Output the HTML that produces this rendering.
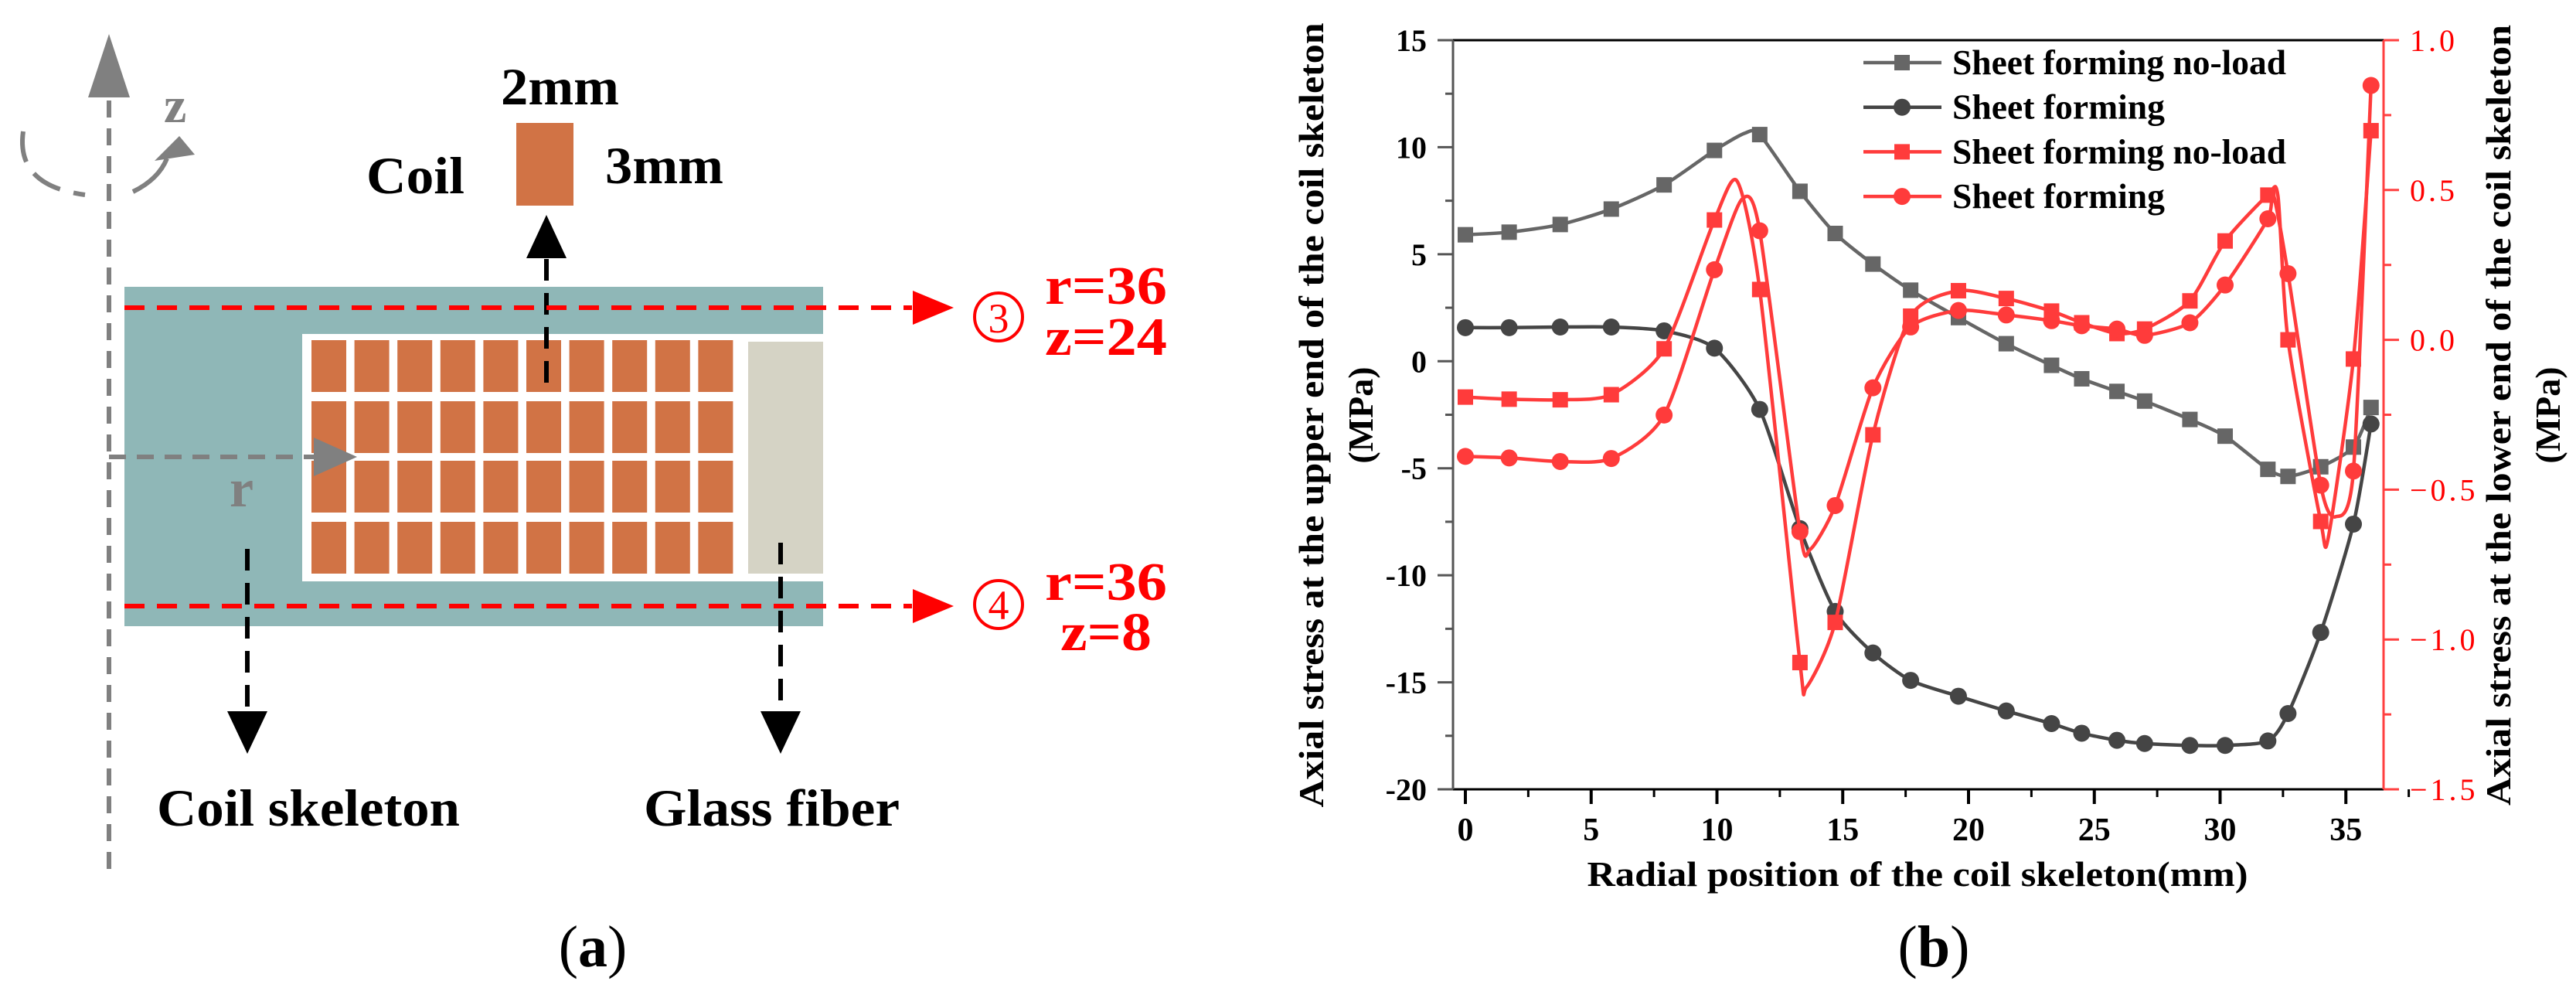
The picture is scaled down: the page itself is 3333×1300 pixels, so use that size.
<!DOCTYPE html>
<html><head><meta charset="utf-8"><style>
html,body{margin:0;padding:0;background:#fff;}
svg, svg text{font-family:"Liberation Serif","Times New Roman",serif;}
</style></head><body>
<svg id="fig" width="3333" height="1295" viewBox="0 0 3333 1295" xmlns="http://www.w3.org/2000/svg" font-family="Liberation Serif, serif">
<!-- Panel (a) -->
<g id="panel-a">
  <rect x="161" y="371" width="904" height="439" fill="#8fb7b7"/>
  <rect x="391" y="432" width="674" height="320" fill="#ffffff"/>
  <rect x="968" y="442" width="97" height="300" fill="#d5d3c5"/>
  <g id="coil-grid"></g>
  <line x1="141" y1="130" x2="141" y2="1125" stroke="#808080" stroke-width="6" stroke-dasharray="22,14"/>
  <polygon points="141,44 114,126 168,126" fill="#808080"/>
  <text x="212" y="158" font-size="66" font-weight="bold" fill="#808080">z</text>
  <path d="M 30 170 Q 20 240 110 252" fill="none" stroke="#808080" stroke-width="6" stroke-dasharray="40,18"/>
  <path d="M 172 248 Q 205 232 216 205" fill="none" stroke="#808080" stroke-width="6"/>
  <polygon points="232,176 200,208 252,200" fill="#808080"/>
  <line x1="141" y1="591" x2="410" y2="591" stroke="#808080" stroke-width="6" stroke-dasharray="22,14"/>
  <polygon points="462,591 406,566 406,616" fill="#808080"/>
  <text x="297" y="655" font-size="70" font-weight="bold" fill="#808080">r</text>
  <rect x="668" y="159" width="74" height="107" fill="#d17345"/>
  <text x="474" y="250" font-size="68" font-weight="bold" fill="#000" textLength="127" lengthAdjust="spacingAndGlyphs">Coil</text>
  <text x="648" y="135" font-size="68" font-weight="bold" fill="#000" textLength="153" lengthAdjust="spacingAndGlyphs">2mm</text>
  <text x="783" y="237" font-size="68" font-weight="bold" fill="#000" textLength="153" lengthAdjust="spacingAndGlyphs">3mm</text>
  <line x1="707" y1="495" x2="707" y2="330" stroke="#000" stroke-width="6" stroke-dasharray="28,16"/>
  <polygon points="707,278 681,334 733,334" fill="#000"/>
  <line x1="161" y1="398" x2="1180" y2="398" stroke="#ff0000" stroke-width="6" stroke-dasharray="26,16"/>
  <polygon points="1234,398 1181,376 1181,420" fill="#ff0000"/>
  <line x1="161" y1="784" x2="1180" y2="784" stroke="#ff0000" stroke-width="6" stroke-dasharray="26,16"/>
  <polygon points="1234,784 1181,762 1181,806" fill="#ff0000"/>
  <circle cx="1292" cy="410" r="31" fill="none" stroke="#ff0000" stroke-width="4"/>
  <text x="1292" y="430" font-size="54" fill="#ff0000" text-anchor="middle">3</text>
  <circle cx="1292" cy="782" r="31" fill="none" stroke="#ff0000" stroke-width="4"/>
  <text x="1292" y="801" font-size="54" fill="#ff0000" text-anchor="middle">4</text>
  <text x="1352" y="393" font-size="70" font-weight="bold" fill="#ff0000" textLength="158" lengthAdjust="spacingAndGlyphs">r=36</text>
  <text x="1352" y="459" font-size="70" font-weight="bold" fill="#ff0000" textLength="158" lengthAdjust="spacingAndGlyphs">z=24</text>
  <text x="1352" y="776" font-size="70" font-weight="bold" fill="#ff0000" textLength="158" lengthAdjust="spacingAndGlyphs">r=36</text>
  <text x="1372" y="841" font-size="70" font-weight="bold" fill="#ff0000" textLength="118" lengthAdjust="spacingAndGlyphs">z=8</text>
  <line x1="320" y1="710" x2="320" y2="925" stroke="#000" stroke-width="6" stroke-dasharray="28,16"/>
  <polygon points="320,975 294,920 346,920" fill="#000"/>
  <line x1="1010" y1="702" x2="1010" y2="925" stroke="#000" stroke-width="6" stroke-dasharray="28,16"/>
  <polygon points="1010,975 984,920 1036,920" fill="#000"/>
  <text x="203" y="1068" font-size="68" font-weight="bold" fill="#000" textLength="392" lengthAdjust="spacingAndGlyphs">Coil skeleton</text>
  <text x="833" y="1068" font-size="68" font-weight="bold" fill="#000" textLength="331" lengthAdjust="spacingAndGlyphs">Glass fiber</text>
  <text x="767" y="1250" font-size="76" fill="#000" text-anchor="middle">(<tspan font-weight="bold">a</tspan>)</text>
</g>
<!-- Panel (b) -->
<g id="panel-b">
  <g id="series"></g>
  <line x1="1880" y1="52" x2="3084" y2="52" stroke="#000" stroke-width="3"/>
  <line x1="1878" y1="1021" x2="3084" y2="1021" stroke="#000" stroke-width="3"/>
  <line x1="1880" y1="52" x2="1880" y2="1021" stroke="#555" stroke-width="3"/>
  <line x1="3084" y1="52" x2="3084" y2="1021" stroke="#ff4040" stroke-width="3"/>
  <g id="ticks"></g>
  <text transform="translate(1712,537) rotate(-90)" font-size="46" font-weight="bold" text-anchor="middle" textLength="1015" lengthAdjust="spacingAndGlyphs">Axial stress at the upper end of the coil skeleton</text>
  <text transform="translate(1776,537) rotate(-90)" font-size="46" font-weight="bold" text-anchor="middle">(MPa)</text>
  <text transform="translate(3248,537) rotate(-90)" font-size="46" font-weight="bold" text-anchor="middle" textLength="1010" lengthAdjust="spacingAndGlyphs">Axial stress at the lower end of the coil skeleton</text>
  <text transform="translate(3312,537) rotate(-90)" font-size="46" font-weight="bold" text-anchor="middle">(MPa)</text>
  <text x="2481" y="1146" font-size="46" font-weight="bold" text-anchor="middle" textLength="855" lengthAdjust="spacingAndGlyphs">Radial position of the coil skeleton(mm)</text>
  <g id="legend"></g>
  <text x="2502" y="1250" font-size="76" fill="#000" text-anchor="middle">(<tspan font-weight="bold">b</tspan>)</text>
</g>
</svg>
<script>
// ---- chart data ----
const xMarks = [0,1.74,3.77,5.8,7.9,9.9,11.7,13.3,14.7,16.2,17.7,19.6,21.5,23.3,24.5,25.9,27,28.8,30.2,31.9,32.7,34,35.3,36];
const upperNoLoad = [5.91,6.03,6.39,7.11,8.24,9.85,10.59,7.94,5.97,4.54,3.32,2.04,0.82,-0.19,-0.82,-1.41,-1.86,-2.72,-3.5,-5.05,-5.38,-4.93,-4.01,-2.16];
const upperLoad = [1.57,1.57,1.6,1.6,1.42,0.61,-2.25,-7.82,-11.69,-13.63,-14.91,-15.65,-16.34,-16.93,-17.38,-17.71,-17.86,-17.95,-17.95,-17.74,-16.46,-12.67,-7.61,-2.93];
const lowerNoLoad = [-0.191,-0.198,-0.2,-0.183,-0.03,0.4,0.168,-1.077,-0.943,-0.317,0.079,0.164,0.138,0.096,0.057,0.021,0.036,0.13,0.33,0.483,0,-0.606,-0.064,0.698];
const lowerLoad = [-0.389,-0.394,-0.406,-0.396,-0.251,0.234,0.364,-0.64,-0.553,-0.16,0.043,0.098,0.083,0.064,0.047,0.036,0.015,0.057,0.183,0.404,0.221,-0.485,-0.438,0.849];
const upperNoLoadExtraX = [11.1];
const upperNoLoadExtraY = [10.65];
const lowerNoLoadExtraX = [10.8,13.55,32.3,34.3];
const lowerNoLoadExtraY = [0.53,-1.16,0.48,-0.66];
const lowerLoadExtraX = [11.0,13.7,32.1,34.6];
const lowerLoadExtraY = [0.47,-0.70,0.49,-0.59];
const xTicks = [0,5,10,15,20,25,30,35];
const leftTicks = [15,10,5,0,-5,-10,-15,-20];
const rightTicks = [1.0,0.5,0.0,-0.5,-1.0,-1.5];
const rightTickLabels = ["1.0","0.5","0.0","\u22120.5","\u22121.0","\u22121.5"];
const legendLabels = ["Sheet forming no-load","Sheet forming","Sheet forming no-load","Sheet forming"];

const X0=1896, XS=32.55, YT=52, YB=1021;
const L_MIN=-20, L_MAX=15, R_MIN=-1.5, R_MAX=1.0;
function xs(v){return X0+v*XS;}
function yl(v){return YT+(L_MAX-v)/(L_MAX-L_MIN)*(YB-YT);}
function yr(v){return YT+(R_MAX-v)/(R_MAX-R_MIN)*(YB-YT);}
const NS="http://www.w3.org/2000/svg";
function mk(tag,attrs,parent){const e=document.createElementNS(NS,tag);for(const k in attrs)e.setAttribute(k,attrs[k]);parent.appendChild(e);return e;}

const grid=document.getElementById('coil-grid');
const rowsY=[440,519,596,675];
for(let r=0;r<4;r++){for(let c=0;c<10;c++){
  const cell=mk('rect',{x:403+c*55.6,y:rowsY[r],width:45,height:67,fill:'#d17345'},grid);
  
  
}}

const tg=document.getElementById('ticks');
xTicks.forEach((t)=>{
  const l=mk('line',{x1:xs(t),y1:YB,x2:xs(t),y2:YB+19,stroke:'#000','stroke-width':4},tg);
  
  
  const m=mk('line',{x1:xs(t+2.5),y1:YB,x2:xs(t+2.5),y2:YB+10,stroke:'#000','stroke-width':3},tg);
  
  
  const tx=mk('text',{x:xs(t),y:YB+66,'font-size':42,'font-weight':'bold','text-anchor':'middle'},tg);
  tx.textContent=t;
  
  
});
leftTicks.forEach((t)=>{
  const l=mk('line',{x1:1860,y1:yl(t),x2:1880,y2:yl(t),stroke:'#555','stroke-width':3},tg);
  
  
  if(t>L_MIN){const m=mk('line',{x1:1870,y1:yl(t-2.5),x2:1880,y2:yl(t-2.5),stroke:'#555','stroke-width':3},tg);
  
  }
  const tx=mk('text',{x:1846,y:yl(t)+14,'font-size':40,'font-weight':'bold','text-anchor':'end'},tg);
  tx.textContent=t;
  
  
});
rightTicks.forEach((t,i)=>{
  const l=mk('line',{x1:3084,y1:yr(t),x2:3104,y2:yr(t),stroke:'#ff4040','stroke-width':3},tg);
  
  
  if(t>R_MIN){const m=mk('line',{x1:3084,y1:yr(t-0.25),x2:3094,y2:yr(t-0.25),stroke:'#ff4040','stroke-width':3},tg);
  
  }
  const tx=mk('text',{x:3118,y:yr(t)+14,'font-size':40,fill:'#ff0000','letter-spacing':'4'},tg);
  tx.textContent=rightTickLabels[i];
  
  
});

const sg=document.getElementById('series');
function merge(xa,ya,ex,ey){const p=xa.map((x,i)=>[x,ya[i]]);ex.forEach((x,i)=>p.push([x,ey[i]]));p.sort((a,b)=>a[0]-b[0]);return p;}
function smoothPath(P){
  let d='M'+P[0][0].toFixed(1)+' '+P[0][1].toFixed(1);
  const k=0.12;
  for(let i=0;i<P.length-1;i++){
    const p0=P[Math.max(0,i-1)],p1=P[i],p2=P[i+1],p3=P[Math.min(P.length-1,i+2)];
    const c1=[p1[0]+(p2[0]-p0[0])*k,p1[1]+(p2[1]-p0[1])*k];
    const c2=[p2[0]-(p3[0]-p1[0])*k,p2[1]-(p3[1]-p1[1])*k];
    d+=' C'+c1[0].toFixed(1)+' '+c1[1].toFixed(1)+' '+c2[0].toFixed(1)+' '+c2[1].toFixed(1)+' '+p2[0].toFixed(1)+' '+p2[1].toFixed(1);
  }
  return d;
}
function drawSeries(name,vals,ex,ey,yf,color,marker){
  const pts=merge(xMarks,vals,ex,ey).map(p=>[xs(p[0]),yf(p[1])]);
  const path=mk('path',{d:smoothPath(pts),fill:'none',stroke:color,'stroke-width':4.5,'stroke-linejoin':'round'},sg);
  
  
  vals.forEach((v,i)=>{
    let m;
    if(marker==='square') m=mk('rect',{x:xs(xMarks[i])-10,y:yf(v)-10,width:20,height:20,fill:color},sg);
    else m=mk('circle',{cx:xs(xMarks[i]),cy:yf(v),r:11,fill:color},sg);
    
    
  });
}
drawSeries('upper-no-load',upperNoLoad,upperNoLoadExtraX,upperNoLoadExtraY,yl,'#666666','square');
drawSeries('upper-load',upperLoad,[],[],yl,'#454545','circle');
drawSeries('lower-no-load',lowerNoLoad,lowerNoLoadExtraX,lowerNoLoadExtraY,yr,'#ff3b3b','square');
drawSeries('lower-load',lowerLoad,lowerLoadExtraX,lowerLoadExtraY,yr,'#ff3b3b','circle');

const lg=document.getElementById('legend');
const lcol=['#666666','#454545','#ff3b3b','#ff3b3b'];
const lmk=['square','circle','square','circle'];
legendLabels.forEach((lab,i)=>{
  const y=81+i*57.7;
  const g=mk('g',{},lg);
  
  
  mk('line',{x1:2411,y1:y,x2:2512,y2:y,stroke:lcol[i],'stroke-width':4.5},g);
  if(lmk[i]==='square') mk('rect',{x:2451,y:y-10,width:20,height:20,fill:lcol[i]},g);
  else mk('circle',{cx:2461,cy:y,r:11,fill:lcol[i]},g);
  const t=mk('text',{x:2526,y:y+15,'font-size':46,'font-weight':'bold',textLength:(i%2===0?432:275),lengthAdjust:'spacingAndGlyphs'},g);
  t.textContent=lab;
});
</script>
</body></html>
